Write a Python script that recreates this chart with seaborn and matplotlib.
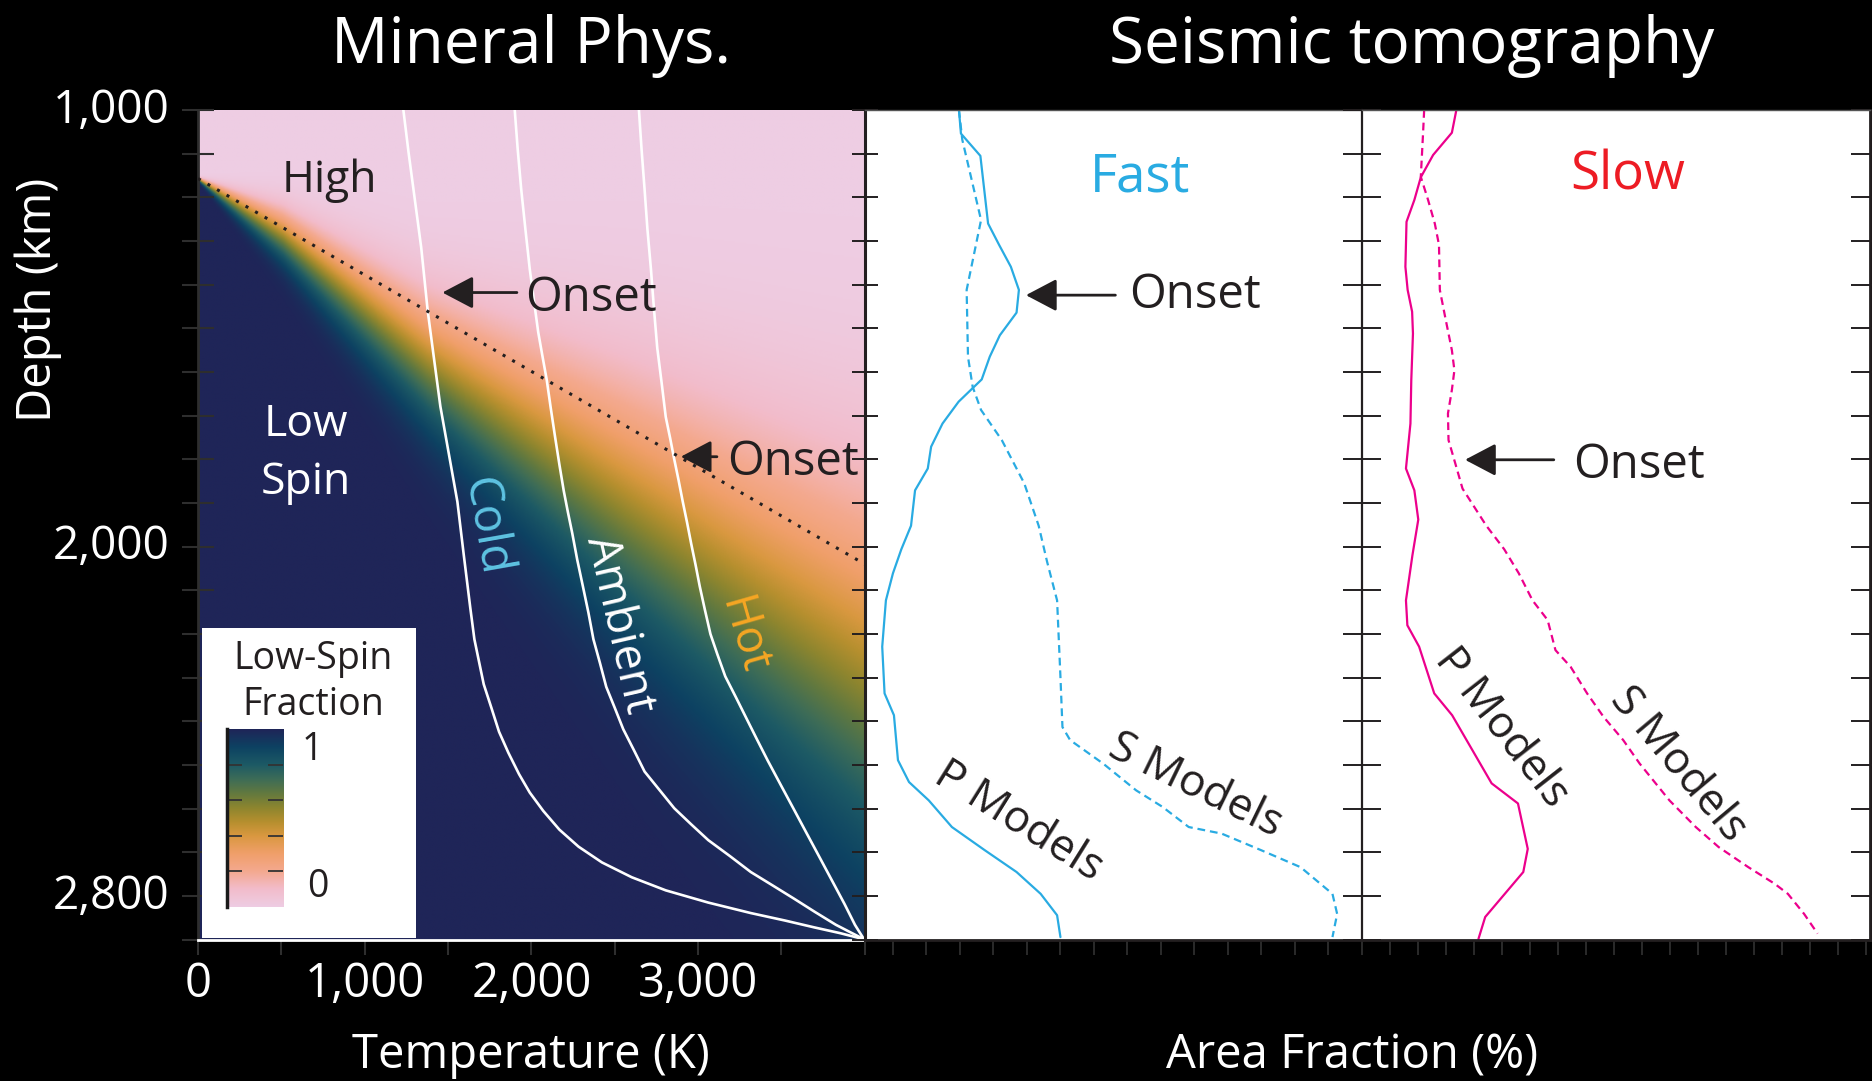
import math
import numpy as np
import matplotlib
matplotlib.use("Agg")
import matplotlib.pyplot as plt
import matplotlib.transforms as mtransforms
import seaborn as sns
from matplotlib.colors import LinearSegmentedColormap
from matplotlib.patches import Rectangle

# ---------------- mineral physics panel ----------------
# geotherms: temperature (K) against depth (km)
cold_T = [1232, 1263, 1301, 1339, 1378, 1416, 1454, 1505, 1556, 1594, 1633, 1658,
          1684, 1714, 1760, 1806, 1862, 1926, 1990, 2071, 2168, 2283, 2423, 2602,
          2806, 3061, 3316, 3520, 3699, 3852, 3995]
cold_depth = [1000, 1097, 1206, 1315, 1460, 1570, 1679, 1788, 1897, 2018, 2139, 2212,
              2260, 2315, 2369, 2424, 2472, 2521, 2563, 2605, 2648, 2687, 2723, 2757,
              2787, 2815, 2839, 2856, 2872, 2885, 2899]
ambient_T = [1900, 1918, 1939, 1964, 1990, 2015, 2041, 2066, 2092, 2117, 2143, 2168,
             2194, 2219, 2245, 2275, 2309, 2342, 2372, 2411, 2449, 2500, 2551, 2615,
             2679, 2768, 2857, 2959, 3061, 3189, 3316, 3444, 3571, 3699, 3827, 3995]
ambient_depth = [1000, 1091, 1182, 1273, 1364, 1436, 1509, 1563, 1618, 1685, 1751, 1812,
                 1872, 1921, 1969, 2030, 2091, 2151, 2212, 2266, 2321, 2369, 2418, 2466,
                 2515, 2557, 2599, 2636, 2672, 2708, 2745, 2775, 2805, 2836, 2866, 2899]
hot_T = [2645, 2661, 2679, 2696, 2717, 2735, 2755, 2781, 2806, 2832, 2857, 2883,
         2908, 2934, 2959, 2985, 3010, 3041, 3074, 3117, 3163, 3227, 3291, 3354,
         3418, 3495, 3571, 3648, 3724, 3801, 3878, 3941, 3995]
hot_depth = [1000, 1091, 1182, 1273, 1364, 1454, 1545, 1624, 1703, 1751, 1800, 1848,
             1897, 1945, 1994, 2042, 2091, 2145, 2200, 2248, 2297, 2345, 2394, 2442,
             2490, 2545, 2599, 2654, 2708, 2763, 2818, 2866, 2899]

# onset of the spin transition (dotted line)
onset_T = [0, 4000]
onset_depth = [1157, 2040]

# low-spin fraction field: mid-point depth and width of the transition
spin_T = [0, 510, 1378, 2551, 4000]
spin_mid_depth = [1157, 1285, 1570, 1885, 2270]
spin_width = [4, 55, 135, 255, 385]

# ---------------- seismic tomography panels ----------------
fast_p_depth = [1000, 1054, 1105, 1260, 1309, 1359, 1412, 1464, 1516, 1565, 1617, 1668,
                1718, 1771, 1821, 1871, 1952, 2006, 2061, 2123, 2229, 2336, 2386, 2489,
                2539, 2581, 2642, 2695, 2745, 2795, 2844, 2894]
fast_p = [2.81, 2.87, 3.45, 3.68, 4.01, 4.36, 4.60, 4.53, 4.03, 3.73, 3.49, 2.80,
          2.32, 1.98, 1.88, 1.50, 1.38, 1.09, 0.84, 0.63, 0.52, 0.59, 0.87, 0.99,
          1.32, 1.91, 2.60, 3.58, 4.53, 5.25, 5.74, 5.84]
fast_s_depth = [1000, 1068, 1252, 1412, 1565, 1634, 1687, 1756, 1855, 1952, 2034, 2123,
                2298, 2413, 2443, 2497, 2558, 2596, 2642, 2657, 2695, 2734, 2772, 2795,
                2841, 2894]
fast_s = [2.81, 2.91, 3.47, 3.04, 3.08, 3.22, 3.47, 4.09, 4.76, 5.19, 5.44, 5.74,
          5.84, 5.90, 6.13, 7.12, 8.10, 8.89, 9.67, 10.65, 11.83, 13.01, 13.60, 13.96,
          14.10, 13.96]
slow_p_depth = [1000, 1052, 1103, 1154, 1206, 1256, 1359, 1412, 1462, 1512, 1619, 1718,
                1821, 1871, 1938, 2020, 2123, 2180, 2229, 2336, 2386, 2542, 2588, 2692,
                2745, 2848, 2898]
slow_p = [3.37, 3.21, 2.54, 2.10, 1.87, 1.59, 1.55, 1.63, 1.79, 1.82, 1.76, 1.73,
          1.57, 1.87, 2.01, 1.80, 1.57, 1.62, 2.04, 2.58, 3.22, 4.63, 5.57, 5.92,
          5.76, 4.40, 4.16]
slow_s_depth = [1000, 1054, 1153, 1206, 1260, 1309, 1412, 1474, 1550, 1596, 1641, 1695,
                1756, 1809, 1867, 1897, 1952, 2006, 2061, 2123, 2168, 2237, 2275, 2336,
                2390, 2443, 2497, 2581, 2642, 2688, 2734, 2772, 2795, 2841, 2886]
slow_s = [2.22, 2.18, 2.10, 2.36, 2.60, 2.75, 2.78, 2.97, 3.21, 3.30, 3.21, 3.07,
          3.09, 3.33, 3.59, 3.89, 4.44, 5.08, 5.60, 6.09, 6.63, 6.91, 7.45, 8.04,
          8.63, 9.33, 9.92, 10.98, 11.92, 12.74, 13.80, 14.74, 15.21, 15.79, 16.27]

depth_labels = {1000: "1,000", 2000: "2,000", 2800: "2,800"}
temp_labels = {0: "0", 1000: "1,000", 2000: "2,000", 3000: "3,000"}

# ---------------- style ----------------
sns.set_style("ticks")
plt.rcParams["font.family"] = ["Open Sans", "DejaVu Sans"]
plt.rcParams["axes.facecolor"] = "white"

INK = "#231f20"
TICK_DARK = "#2e2e2e"
BLUE = "#29abe2"
MAGENTA = "#ec008c"

spin_cmap = LinearSegmentedColormap.from_list("spin", [
    (0.00, "#eecde3"), (0.10, "#f2bccb"), (0.20, "#f4a98f"), (0.30, "#f09f6a"),
    (0.40, "#d99840"), (0.48, "#b58f2e"), (0.56, "#8c852f"), (0.64, "#62793f"),
    (0.72, "#3d6c57"), (0.80, "#1d5a65"), (0.90, "#0d4262"), (1.00, "#1f2558")])

W, H = 1872, 1081
fig = plt.figure(figsize=(W / 100, H / 100), dpi=100, facecolor="black")

top_px, bot_px = 110, 939.7
ax_h = (bot_px - top_px) / H
ax_y0 = 1 - bot_px / H
ax_l = fig.add_axes([198 / W, ax_y0, 666.8 / W, ax_h])
ax_m = fig.add_axes([864.8 / W, ax_y0, 497.2 / W, ax_h])
ax_r = fig.add_axes([1362 / W, ax_y0, 508 / W, ax_h])

# ---------------- left: low-spin fraction field ----------------
Tg = np.linspace(0, 4000, 600)
Dg = np.linspace(1000, 2900, 600)
TT, DD = np.meshgrid(Tg, Dg)
mid = np.interp(TT, spin_T, spin_mid_depth)
wid = np.interp(TT, spin_T, spin_width)
erf = np.vectorize(math.erf)
frac = 0.5 * (1 + erf((DD - mid) / (wid * math.sqrt(2))))
ax_l.imshow(frac, extent=[0, 4000, 2900, 1000], origin="upper", aspect="auto",
            cmap=spin_cmap, vmin=0, vmax=1, interpolation="bilinear", zorder=0)

for T, d in [(cold_T, cold_depth), (ambient_T, ambient_depth), (hot_T, hot_depth)]:
    sns.lineplot(x=T, y=d, sort=False, estimator=None, ax=ax_l, color="white",
                 lw=1.9, zorder=3)
sns.lineplot(x=onset_T, y=onset_depth, sort=False, estimator=None, ax=ax_l,
             color=INK, lw=2.2, linestyle=(0, (1.0, 2.6)), zorder=3)

ax_l.set_xlim(0, 4000)
ax_l.set_ylim(2900, 1000)
xt = np.arange(0, 4001, 500)
ax_l.set_xticks(xt)
ax_l.set_xticklabels([temp_labels.get(int(v), "") for v in xt])
yt = np.arange(1000, 2901, 100)
ax_l.set_yticks(yt)
ax_l.set_yticklabels([depth_labels.get(int(v), "") for v in yt])
ax_l.tick_params(axis="y", direction="inout", length=23, width=1.5, color=TICK_DARK,
                 labelcolor="white", labelsize=33, pad=9)
ax_l.tick_params(axis="x", direction="out", length=11, width=1.5, color=TICK_DARK,
                 labelcolor="white", labelsize=34, pad=4)
lift = mtransforms.ScaledTranslation(0, 5 / 100, fig.dpi_scale_trans)
for lab in ax_l.get_yticklabels():
    lab.set_verticalalignment("center_baseline")
    lab.set_transform(lab.get_transform() + lift)
ax_l.set_xlabel("")
ax_l.set_ylabel("")
for s in ["top", "right"]:
    ax_l.spines[s].set_visible(False)
ax_l.spines["left"].set_color(TICK_DARK)
ax_l.spines["left"].set_linewidth(2)
ax_l.spines["bottom"].set_color("white")
ax_l.spines["bottom"].set_linewidth(2)

txt = dict(fontsize=32, color=INK)
ax_l.text(790, 1188, "High", ha="center", va="baseline", **txt)
ax_l.text(649, 1746, "Low", ha="center", va="baseline", fontsize=32, color="white")
ax_l.text(649, 1879, "Spin", ha="center", va="baseline", fontsize=32, color="white")
ax_l.text(1724, 1954, "Cold", ha="center", va="center", rotation=-80,
          fontsize=34, color="#5ec3e2")
ax_l.text(2528, 2179, "Ambient", ha="center", va="center", rotation=-77,
          fontsize=33, color="white")
ax_l.text(3267, 2204, "Hot", ha="center", va="center", rotation=-74,
          fontsize=33, color="#f6a623")

arrow = dict(arrowstyle="-|>,head_length=0.95,head_width=0.5", color=INK, lw=2,
             mutation_scale=20, shrinkA=0, shrinkB=0)
ax_l.text(1964, 1460, "Onset", ha="left", va="baseline", fontsize=34, color=INK)
ax_l.annotate("", xy=(1466, 1418), xytext=(1913, 1418), arrowprops=arrow)
ax_l.text(3177, 1836, "Onset", ha="left", va="baseline", fontsize=34, color=INK)
ax_l.annotate("", xy=(2896, 1794), xytext=(3113, 1794), arrowprops=arrow)

# legend box with colour bar
ax_l.add_patch(Rectangle((0.0055, 0.002), 0.3215, 0.3737, transform=ax_l.transAxes,
                         facecolor="white", edgecolor="none", zorder=4))
ax_l.text(0.1725, 0.3265, "Low-Spin", transform=ax_l.transAxes, ha="center",
          va="baseline", fontsize=27, color=INK, zorder=5)
ax_l.text(0.1725, 0.2705, "Fraction", transform=ax_l.transAxes, ha="center",
          va="baseline", fontsize=27, color=INK, zorder=5)
cax = ax_l.inset_axes([0.0435, 0.0394, 0.084, 0.2145])
cax.set_zorder(6)
grad = np.linspace(0, 1, 256).reshape(-1, 1)
cax.imshow(grad, extent=[0, 1, 0, 1], origin="lower", aspect="auto", cmap=spin_cmap,
           vmin=0, vmax=1)
cax.set_xlim(0, 1)
cax.set_ylim(0, 1)
cax.set_xticks([])
cax.set_yticks([0.2, 0.4, 0.6, 0.8])
cax.tick_params(axis="y", direction="in", length=11, width=1.3, color="#333333",
                left=True, right=True, labelleft=False)
for s in ["top", "right", "bottom"]:
    cax.spines[s].set_visible(False)
cax.spines["left"].set_color("#1a1a1a")
cax.spines["left"].set_linewidth(2.5)
cax.text(1.34, 0.882, "1", transform=cax.transAxes, ha="left", va="center",
         fontsize=27, color=INK)
cax.text(1.43, 0.112, "0", transform=cax.transAxes, ha="left", va="center",
         fontsize=27, color=INK)

# ---------------- middle: fast anomalies ----------------
sns.lineplot(x=fast_p, y=fast_p_depth, sort=False, estimator=None, ax=ax_m,
             color=BLUE, lw=1.6)
sns.lineplot(x=fast_s, y=fast_s_depth, sort=False, estimator=None, ax=ax_m,
             color=BLUE, lw=1.6, linestyle=(0, (3.5, 2.2)))
ax_m.set_xlim(0, 497.2 / 33.5)
ax_m.set_xticks(0.83 + np.arange(0, 14))
ax_m.text(8.22, 1187, "Fast", ha="center", va="baseline", fontsize=38, color=BLUE)
ax_m.text(7.89, 1453, "Onset", ha="left", va="baseline", fontsize=34, color=INK)
ax_m.annotate("", xy=(4.81, 1424), xytext=(7.48, 1424), arrowprops=arrow)
ax_m.text(4.57, 2630, "P Models", ha="center", va="center", rotation=-32,
          fontsize=32, color=INK)
ax_m.text(9.87, 2548, "S Models", ha="center", va="center", rotation=-26,
          fontsize=32, color=INK)

# ---------------- right: slow anomalies ----------------
sns.lineplot(x=slow_p, y=slow_p_depth, sort=False, estimator=None, ax=ax_r,
             color=MAGENTA, lw=1.6)
sns.lineplot(x=slow_s, y=slow_s_depth, sort=False, estimator=None, ax=ax_r,
             color=MAGENTA, lw=1.6, linestyle=(0, (3.5, 2.2)))
ax_r.set_xlim(0, 508 / 28)
ax_r.set_xticks(np.arange(0, 19))
ax_r.text(9.5, 1183, "Slow", ha="center", va="baseline", fontsize=38, color="#ed1c24")
ax_r.text(7.54, 1843, "Onset", ha="left", va="baseline", fontsize=34, color=INK)
ax_r.annotate("", xy=(3.68, 1801), xytext=(6.85, 1801), arrowprops=arrow)
ax_r.text(4.98, 2415, "P Models", ha="center", va="center", rotation=-52,
          fontsize=32, color=INK)
ax_r.text(11.28, 2500, "S Models", ha="center", va="center", rotation=-50,
          fontsize=32, color=INK)

for ax in (ax_m, ax_r):
    ax.set_ylim(2900, 1000)
    ax.set_yticks(yt)
    ax.set_xlabel("")
    ax.set_ylabel("")
    ax.set_facecolor("white")
    ax.tick_params(axis="x", direction="out", length=11, width=1.3, color=TICK_DARK,
                   labelbottom=False)
    ax.spines["top"].set_color("#555555")
    ax.spines["top"].set_linewidth(1)
    ax.spines["bottom"].set_color(INK)
    ax.spines["bottom"].set_linewidth(2)
    ax.spines["left"].set_color(INK)

ax_m.tick_params(axis="y", direction="inout", length=19, width=1.4, color=INK,
                 left=True, right=False, labelleft=False)
ax_m.spines["left"].set_linewidth(2.2)
ax_m.spines["right"].set_visible(False)
ax_r.tick_params(axis="y", direction="inout", length=28, width=1.4, color=INK,
                 left=True, right=True, labelleft=False, labelright=False)
ax_r.spines["left"].set_linewidth(1.6)
ax_r.spines["right"].set_color(INK)
ax_r.spines["right"].set_linewidth(2)

# ---------------- titles and axis names ----------------
fig.text(531 / W, 1 - 62.7 / H, "Mineral Phys.", ha="center", va="baseline",
         fontsize=46, color="white")
fig.text(1412 / W, 1 - 62.7 / H, "Seismic tomography", ha="center", va="baseline",
         fontsize=46, color="white")
fig.text(531 / W, 1 - 1068 / H, "Temperature (K)", ha="center", va="baseline",
         fontsize=34, color="white")
fig.text(1352 / W, 1 - 1068 / H, "Area Fraction (%)", ha="center", va="baseline",
         fontsize=34, color="white")
fig.text(38 / W, 1 - 300 / H, "Depth (km)", ha="center", va="center", rotation=90,
         fontsize=34, color="white")

fig.savefig("out.png", dpi=100, facecolor="black")
